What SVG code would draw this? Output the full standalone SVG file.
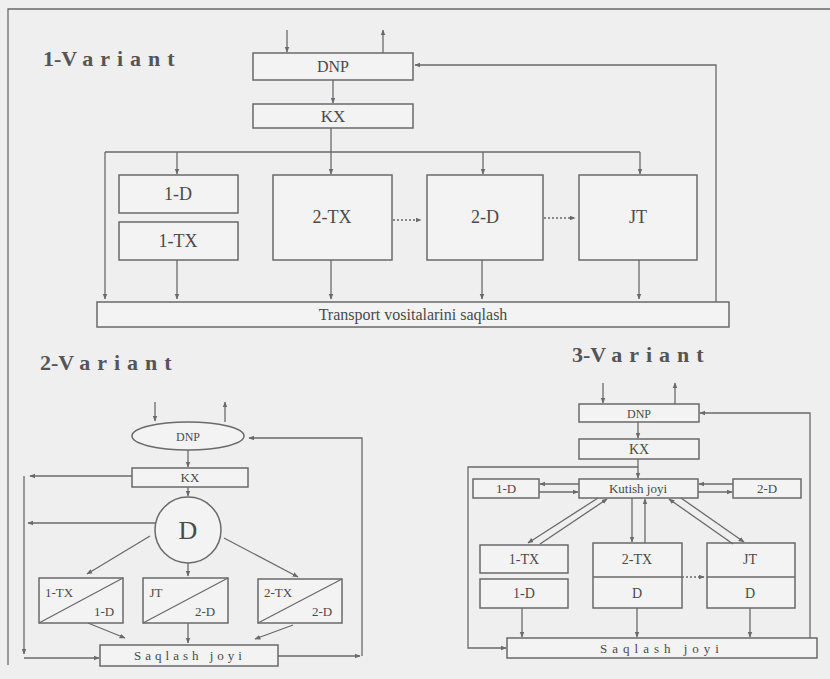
<svg xmlns="http://www.w3.org/2000/svg" width="830" height="679" viewBox="0 0 830 679">
<style>
.bx{fill:#f3f3f3;stroke:#6a6a6a;stroke-width:1.5}
.ln{fill:none;stroke:#6a6a6a;stroke-width:1.3}
.dl{fill:none;stroke:#6a6a6a;stroke-width:1.3;stroke-dasharray:2 2}
.t{font-family:"Liberation Serif","Times New Roman",serif;fill:#4a4a4a;text-anchor:middle}
.ti{font-family:"Liberation Serif","Times New Roman",serif;fill:#555;font-weight:bold;font-size:22px}
</style>
<defs>
<marker id="a" viewBox="0 0 10 10" refX="9" refY="5" markerWidth="6" markerHeight="6" orient="auto" markerUnits="userSpaceOnUse"><path d="M0,1 L10,5 L0,9 z" fill="#6a6a6a"/></marker>
</defs>
<rect x="0" y="0" width="830" height="679" fill="#efefef"/>
<path class="ln" d="M8,665 V9 H830"/>

<!-- titles -->
<text class="ti" x="43" y="66">1-<tspan letter-spacing="7">Variant</tspan></text>
<text class="ti" x="40" y="370">2-<tspan letter-spacing="7">Variant</tspan></text>
<text class="ti" x="572" y="362">3-<tspan letter-spacing="7">Variant</tspan></text>

<!-- Variant 1 nodes -->
<g id="v1-dnp"><rect class="bx" x="253" y="53" width="160" height="27"/><text class="t" x="333" y="72" font-size="16">DNP</text></g>
<g id="v1-kx"><rect class="bx" x="253" y="104" width="160" height="24"/><text class="t" x="333" y="122" font-size="17">KX</text></g>
<g id="v1-1d"><rect class="bx" x="119" y="175" width="119" height="38"/><text class="t" x="178" y="200" font-size="18">1-D</text></g>
<g id="v1-1tx"><rect class="bx" x="119" y="222" width="119" height="38"/><text class="t" x="178" y="247" font-size="18">1-TX</text></g>
<g id="v1-2tx"><rect class="bx" x="273" y="175" width="119" height="85"/><text class="t" x="332" y="223" font-size="18">2-TX</text></g>
<g id="v1-2d"><rect class="bx" x="427" y="175" width="116" height="85"/><text class="t" x="485" y="223" font-size="18">2-D</text></g>
<g id="v1-jt"><rect class="bx" x="579" y="175" width="118" height="85"/><text class="t" x="638" y="223" font-size="18">JT</text></g>
<g id="v1-transport"><rect class="bx" x="97" y="302" width="632" height="25"/><text class="t" x="413" y="320" font-size="16">Transport vositalarini saqlash</text></g>

<!-- Variant 2 nodes -->
<g id="v2-dnp"><ellipse class="bx" cx="188" cy="436" rx="56" ry="14"/><text class="t" x="188" y="441" font-size="12">DNP</text></g>
<g id="v2-kx"><rect class="bx" x="132" y="468" width="116" height="19"/><text class="t" x="190" y="482" font-size="13">KX</text></g>
<g id="v2-d"><circle class="bx" cx="188" cy="530" r="33"/><text class="t" x="188" y="539" font-size="26">D</text></g>
<g id="v2-b1"><rect class="bx" x="39" y="578" width="84" height="45"/><line class="ln" x1="39" y1="623" x2="123" y2="578"/><text class="t" x="59" y="597" font-size="13">1-TX</text><text class="t" x="104" y="616" font-size="13">1-D</text></g>
<g id="v2-b2"><rect class="bx" x="143" y="578" width="85" height="45"/><line class="ln" x1="143" y1="623" x2="228" y2="578"/><text class="t" x="156" y="597" font-size="13">JT</text><text class="t" x="205" y="616" font-size="13">2-D</text></g>
<g id="v2-b3"><rect class="bx" x="258" y="579" width="84" height="44"/><line class="ln" x1="258" y1="623" x2="342" y2="579"/><text class="t" x="278" y="597" font-size="13">2-TX</text><text class="t" x="322" y="616" font-size="13">2-D</text></g>
<g id="v2-saqlash"><rect class="bx" x="100" y="645" width="178" height="21"/><text class="t" x="190" y="660" font-size="13" letter-spacing="4">Saqlash joyi</text></g>

<!-- Variant 3 nodes -->
<g id="v3-dnp"><rect class="bx" x="579" y="404" width="120" height="18"/><text class="t" x="639" y="418" font-size="12">DNP</text></g>
<g id="v3-kx"><rect class="bx" x="579" y="439" width="120" height="20"/><text class="t" x="639" y="454" font-size="14">KX</text></g>
<g id="v3-kutish"><rect class="bx" x="579" y="479" width="119" height="19"/><text class="t" x="638" y="493" font-size="13">Kutish joyi</text></g>
<g id="v3-1d-top"><rect class="bx" x="473" y="479" width="66" height="19"/><text class="t" x="506" y="493" font-size="13">1-D</text></g>
<g id="v3-2d-top"><rect class="bx" x="733" y="479" width="68" height="19"/><text class="t" x="767" y="493" font-size="13">2-D</text></g>
<g id="v3-1tx"><rect class="bx" x="480" y="545" width="88" height="28"/><text class="t" x="524" y="564" font-size="14">1-TX</text></g>
<g id="v3-1d"><rect class="bx" x="480" y="579" width="88" height="29"/><text class="t" x="524" y="598" font-size="14">1-D</text></g>
<g id="v3-2tx"><rect class="bx" x="593" y="543" width="89" height="65"/><line class="ln" x1="593" y1="577" x2="682" y2="577"/><text class="t" x="637" y="564" font-size="14">2-TX</text><text class="t" x="637" y="598" font-size="14">D</text></g>
<g id="v3-jt"><rect class="bx" x="707" y="543" width="88" height="65"/><line class="ln" x1="707" y1="577" x2="795" y2="577"/><text class="t" x="750" y="564" font-size="14">JT</text><text class="t" x="750" y="598" font-size="14">D</text></g>
<g id="v3-saqlash"><rect class="bx" x="507" y="638" width="310" height="20"/><text class="t" x="662" y="653" font-size="13" letter-spacing="5">Saqlash joyi</text></g>

<g id="connectors">
<!-- V1 -->
<line class="ln" x1="287" y1="30" x2="287" y2="52" marker-end="url(#a)"/>
<line class="ln" x1="383" y1="53" x2="383" y2="30" marker-end="url(#a)"/>
<line class="ln" x1="333" y1="80" x2="333" y2="103" marker-end="url(#a)"/>
<path class="ln" d="M331,128 V152 M105,152 H640"/>
<line class="ln" x1="177" y1="152" x2="177" y2="174" marker-end="url(#a)"/>
<line class="ln" x1="331" y1="152" x2="331" y2="174" marker-end="url(#a)"/>
<line class="ln" x1="483" y1="152" x2="483" y2="174" marker-end="url(#a)"/>
<line class="ln" x1="640" y1="152" x2="640" y2="174" marker-end="url(#a)"/>
<line class="ln" x1="105" y1="152" x2="105" y2="299" marker-end="url(#a)"/>
<line class="dl" x1="393" y1="220" x2="421" y2="220" marker-end="url(#a)"/>
<line class="dl" x1="544" y1="218" x2="575" y2="218" marker-end="url(#a)"/>
<line class="ln" x1="177" y1="260" x2="177" y2="299" marker-end="url(#a)"/>
<line class="ln" x1="331" y1="260" x2="331" y2="299" marker-end="url(#a)"/>
<line class="ln" x1="482" y1="260" x2="482" y2="299" marker-end="url(#a)"/>
<line class="ln" x1="639" y1="260" x2="639" y2="299" marker-end="url(#a)"/>
<polyline class="ln" points="716,302 716,65 415,65" marker-end="url(#a)"/>
<!-- V2 -->
<line class="ln" x1="155" y1="402" x2="155" y2="421" marker-end="url(#a)"/>
<line class="ln" x1="225" y1="422" x2="225" y2="402" marker-end="url(#a)"/>
<polyline class="ln" points="362,656 362,438 249,438" marker-end="url(#a)"/>
<line class="ln" x1="188" y1="450" x2="188" y2="467" marker-end="url(#a)"/>
<line class="ln" x1="132" y1="476" x2="30" y2="476" marker-end="url(#a)"/>
<line class="ln" x1="24" y1="476" x2="24" y2="654" marker-end="url(#a)"/>
<line class="ln" x1="24" y1="658" x2="99" y2="658" marker-end="url(#a)"/>
<line class="ln" x1="188" y1="487" x2="188" y2="496" marker-end="url(#a)"/>
<line class="ln" x1="155" y1="523" x2="28" y2="523" marker-end="url(#a)"/>
<line class="ln" x1="150" y1="536" x2="87" y2="574" marker-end="url(#a)"/>
<line class="ln" x1="188" y1="563" x2="188" y2="576" marker-end="url(#a)"/>
<line class="ln" x1="224" y1="538" x2="298" y2="577" marker-end="url(#a)"/>
<line class="ln" x1="88" y1="623" x2="125" y2="638" marker-end="url(#a)"/>
<line class="ln" x1="188" y1="623" x2="188" y2="643" marker-end="url(#a)"/>
<line class="ln" x1="293" y1="625" x2="255" y2="639" marker-end="url(#a)"/>
<line class="ln" x1="278" y1="656" x2="360" y2="656" marker-end="url(#a)"/>
<!-- V3 -->
<line class="ln" x1="603" y1="383" x2="603" y2="403" marker-end="url(#a)"/>
<line class="ln" x1="675" y1="404" x2="675" y2="383" marker-end="url(#a)"/>
<polyline class="ln" points="810,638 810,413 700,413" marker-end="url(#a)"/>
<line class="ln" x1="638" y1="422" x2="638" y2="438" marker-end="url(#a)"/>
<line class="ln" x1="638" y1="459" x2="638" y2="478" marker-end="url(#a)"/>
<polyline class="ln" points="638,467 468,467 468,648 506,648" marker-end="url(#a)"/>
<line class="ln" x1="579" y1="484" x2="540" y2="484" marker-end="url(#a)"/>
<line class="ln" x1="539" y1="492" x2="578" y2="492" marker-end="url(#a)"/>
<line class="ln" x1="733" y1="484" x2="699" y2="484" marker-end="url(#a)"/>
<line class="ln" x1="698" y1="492" x2="732" y2="492" marker-end="url(#a)"/>
<line class="ln" x1="598" y1="498" x2="528" y2="543" marker-end="url(#a)"/>
<line class="ln" x1="540" y1="544" x2="607" y2="499" marker-end="url(#a)"/>
<line class="ln" x1="632" y1="498" x2="632" y2="542" marker-end="url(#a)"/>
<line class="ln" x1="645" y1="543" x2="645" y2="499" marker-end="url(#a)"/>
<line class="ln" x1="681" y1="498" x2="744" y2="542" marker-end="url(#a)"/>
<line class="ln" x1="733" y1="544" x2="669" y2="499" marker-end="url(#a)"/>
<line class="dl" x1="682" y1="577" x2="704" y2="577" marker-end="url(#a)"/>
<line class="ln" x1="522" y1="608" x2="522" y2="637" marker-end="url(#a)"/>
<line class="ln" x1="637" y1="608" x2="637" y2="637" marker-end="url(#a)"/>
<line class="ln" x1="750" y1="608" x2="750" y2="637" marker-end="url(#a)"/>
</g>
</svg>
